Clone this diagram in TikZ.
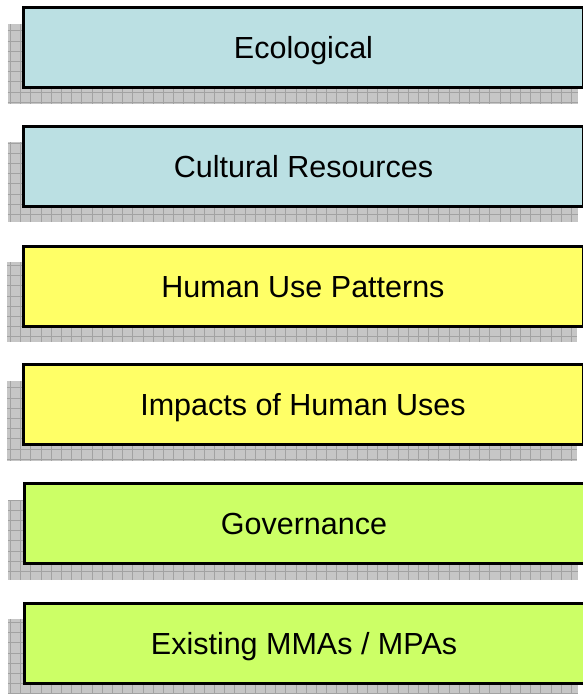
\documentclass[tikz,border=0pt]{standalone}
\usepackage{fontspec}
\setmainfont{Liberation Sans}
\usepackage{xcolor}
\usepackage{tikz}
\usetikzlibrary{calc}
\usetikzlibrary{backgrounds}
\definecolor{ecoblue}{HTML}{BBE0E3}
\definecolor{useyellow}{HTML}{FFFF66}
\definecolor{govgreen}{HTML}{CCFF66}
\definecolor{shadegray}{HTML}{C6C6C6}
\definecolor{gridgray}{HTML}{A2A2A2}
\tikzset{topic/.style={draw=black,line width=3pt,minimum width=560pt,minimum height=80pt,
	inner sep=0pt,outer sep=0pt,text height=22pt,text depth=0pt,font=\fontsize{30.5}{36}\selectfont}}
\newcommand\boxshade[1]{
	\fill[shadegray] ($(#1.north west)+(-16,16)$) rectangle ($(#1.south east)+(-6,16)$);
	\draw[gridgray,line width=0.5pt,step=10.2pt] ($(#1.north west)+(-16,16)$) grid ($(#1.south east)+(-6,16)$);
	}

\begin{document}
\begin{tikzpicture}[x=1pt,y=-1pt]
					\useasboundingbox (0,0) rectangle (582,694);
					\node[topic,fill=ecoblue] (eco) at (303.5,47.5) {Ecological};
					\node[topic,fill=ecoblue] (cult) at (303.5,166) {Cultural Resources};
					\node[topic,fill=useyellow] (use) at (303,286) {Human Use Patterns};
					\node[topic,fill=useyellow] (impact) at (303,404.5) {Impacts of Human Uses};
					\node[topic,fill=govgreen] (gov) at (304,523.5) {Governance};
					\node[topic,fill=govgreen] (mpa) at (304,643) {Existing MMAs / MPAs};
					\begin{scope}[on background layer]
					\boxshade{eco}
					\boxshade{cult}
					\boxshade{use}
					\boxshade{impact}
					\boxshade{gov}
					\boxshade{mpa}
					\end{scope}
				\end{tikzpicture}
\end{document}
